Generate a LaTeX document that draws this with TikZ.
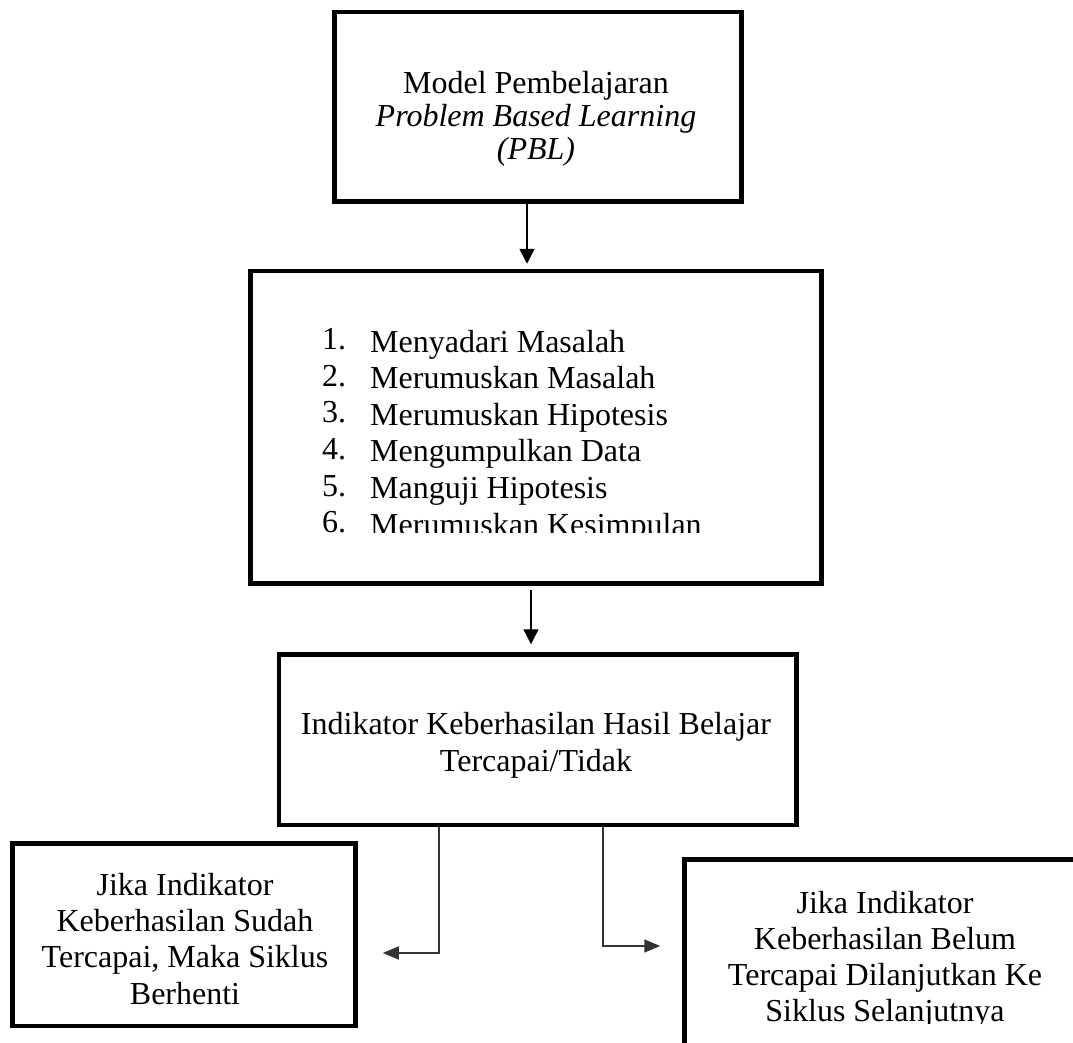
\documentclass[tikz,border=0pt]{standalone}
\usepackage{fontspec}
\setmainfont{Liberation Serif}
\usetikzlibrary{arrows.meta}

\begin{document}
\begin{tikzpicture}[x=1pt,y=-1pt,
        box/.style={draw,line width=4.5pt,inner sep=0pt},
        txt/.style={align=center,inner sep=0pt,font=\fontsize{32}{36.3}\selectfont},
        arr/.style={line width=1.3pt,-{Triangle[length=15pt,width=15pt]}},
        link/.style={line width=1.5pt,black!80,-{Triangle[length=16pt,width=13pt]}}]
        \useasboundingbox (0,0) rectangle (1073,1043);
        \clip (0,0) rectangle (1073,1043);
        \node[box,minimum width=407pt,minimum height=189.5pt] (model) at (538,106.75) {};
        \node[txt,font=\fontsize{32}{33}\selectfont] (modeltext) at (536,119) {Model Pembelajaran\\\textit{Problem Based Learning}\\\textit{(PBL)}};
        \node[box,minimum width=571pt,minimum height=312.5pt] (steps) at (536,427.25) {};
        \begin{scope}
            \clip (250,271) rectangle (822,532);
            \foreach \i/\task in {1/Menyadari Masalah,2/Merumuskan Masalah,3/Merumuskan Hipotesis,4/Mengumpulkan Data,5/Manguji Hipotesis,6/Merumuskan Kesimpulan} {
                \node[txt,anchor=base west] (num\i) at (322,{352+36.6*(\i-1)-2.3}) {\i.};
                \node[txt,anchor=base west] (task\i) at (370,{352+36.6*(\i-1)}) {\task};
            }
        \end{scope}
        \node[box,minimum width=517.5pt,minimum height=170.5pt] (result) at (537.75,739.75) {};
        \node[txt,font=\fontsize{32}{37}\selectfont] (resulttext) at (536,745) {Indikator Keberhasilan Hasil Belajar\\Tercapai/Tidak};
        \node[box,minimum width=343pt,minimum height=182.5pt] (stop) at (184,934.75) {};
        \node[txt] (stoptext) at (185,938.7) {Jika Indikator\\Keberhasilan Sudah\\Tercapai, Maka Siklus\\Berhenti};
        \node[box,minimum width=401pt,minimum height=200.5pt] (next) at (885,959.75) {};
        \begin{scope}
            \clip (690,865) rectangle (1073,1023);
            \node[txt,font=\fontsize{32}{36}\selectfont] (nexttext) at (885,959.6) {Jika Indikator\\Keberhasilan Belum\\Tercapai Dilanjutkan Ke\\Siklus Selanjutnya};
        \end{scope}
        \draw[arr,shorten >=5pt] ([xshift=-11pt]model.south) -- ([xshift=-11pt]model.south |- steps.north);
        \draw[arr,shorten <=4pt,shorten >=8pt] ([xshift=-5pt]steps.south) -- ([xshift=-5pt]steps.south |- result.north);
        \draw[link,shorten >=25pt] ([xshift=-98.75pt]result.south) |- ([yshift=-18.25pt]stop.east);
        \draw[link,shorten >=22pt] ([xshift=65.25pt]result.south) |- ([yshift=13.75pt]next.west);
    \end{tikzpicture}
\end{document}
